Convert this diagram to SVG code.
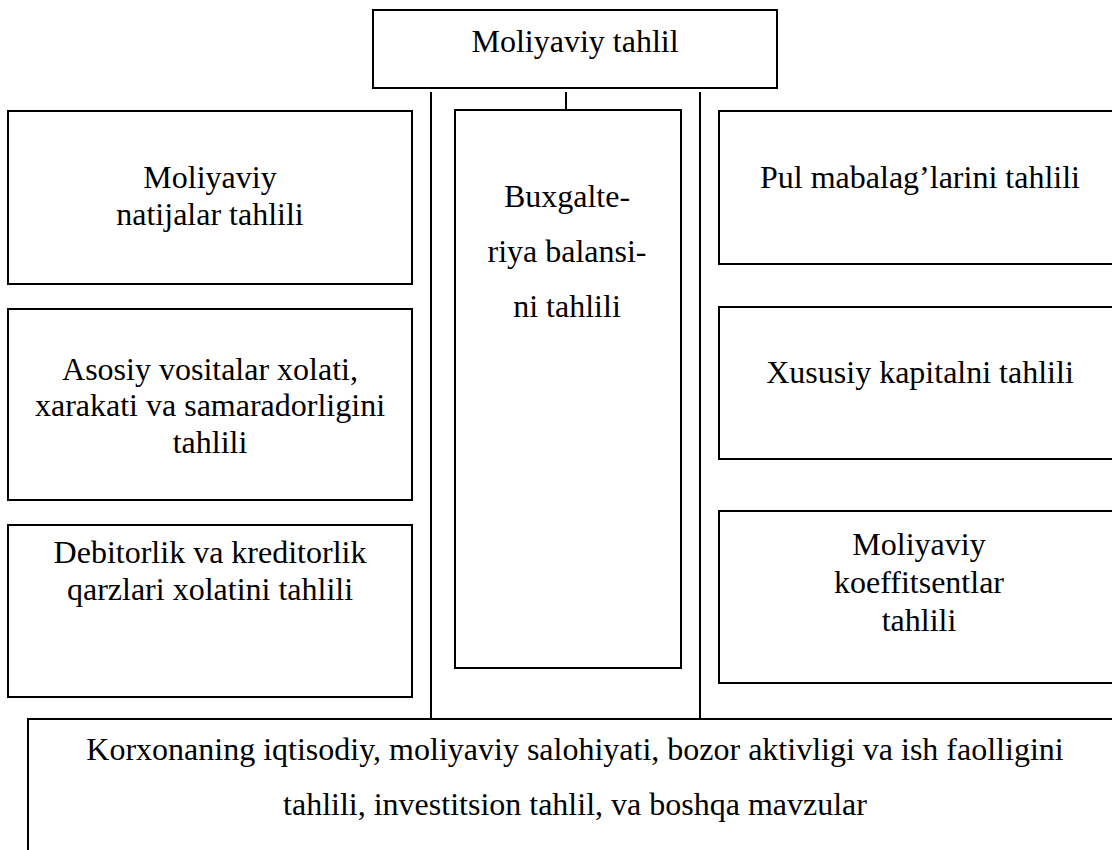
<svg xmlns="http://www.w3.org/2000/svg" width="1112" height="850" viewBox="0 0 1112 850">
<style>
rect{fill:#fff;stroke:#000;stroke-width:2}
line{stroke:#000;stroke-width:2}
text{font-family:"Liberation Serif","Times New Roman",serif;font-size:32px;fill:#000;text-anchor:middle}
</style>
<rect x="0" y="0" width="1112" height="850" style="stroke:none"/>
<g id="connectors">
<line x1="431" y1="92" x2="431" y2="719"/>
<line x1="700" y1="92" x2="700" y2="719"/>
<line x1="566" y1="92" x2="566" y2="110"/>
</g>
<g id="top"><rect x="373" y="10" width="404" height="78"/><text x="575" y="52">Moliyaviy tahlil</text></g>
<g id="mid"><rect x="455" y="110" width="226" height="558"/><text x="567" y="207">Buxgalte-</text><text x="567" y="262">riya balansi-</text><text x="567" y="317">ni tahlili</text></g>
<g id="l1"><rect x="8" y="111" width="404" height="173"/><text x="210" y="188">Moliyaviy</text><text x="210" y="225">natijalar tahlili</text></g>
<g id="l2"><rect x="8" y="309" width="404" height="191"/><text x="210" y="380">Asosiy vositalar xolati,</text><text x="210" y="416">xarakati va samaradorligini</text><text x="210" y="453">tahlili</text></g>
<g id="l3"><rect x="8" y="525" width="404" height="172"/><text x="210" y="563">Debitorlik va kreditorlik</text><text x="210" y="600">qarzlari xolatini tahlili</text></g>
<g id="r1"><rect x="719" y="111" width="402" height="153"/><text x="920" y="188">Pul mabalag’larini tahlili</text></g>
<g id="r2"><rect x="719" y="307" width="402" height="152"/><text x="920" y="383">Xususiy kapitalni tahlili</text></g>
<g id="r3"><rect x="719" y="511" width="402" height="172"/><text x="919" y="555">Moliyaviy</text><text x="919" y="593">koeffitsentlar</text><text x="919" y="631">tahlili</text></g>
<g id="bottom"><rect x="28" y="719" width="1094" height="140"/><text x="575" y="760">Korxonaning iqtisodiy, moliyaviy salohiyati, bozor aktivligi va ish faolligini</text><text x="575" y="815">tahlili, investitsion tahlil, va boshqa mavzular</text></g>
</svg>
